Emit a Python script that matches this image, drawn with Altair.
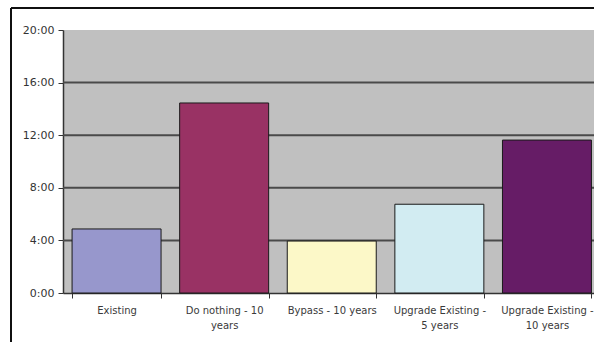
import altair as alt
import pandas as pd

categories = ["Existing", "Do nothing - 10 years", "Bypass - 10 years",
              "Upgrade Existing - 5 years", "Upgrade Existing - 10 years"]
label_lines = [["Existing"], ["Do nothing - 10", "years"], ["Bypass - 10 years"],
               ["Upgrade Existing -", "5 years"], ["Upgrade Existing -", "10 years"]]
hours = [4.87, 14.45, 3.95, 6.75, 11.63]
colors = ["#9797CC", "#993264", "#FCF8C8", "#D2ECF2", "#661C66"]
y_ticks = [0, 4, 8, 12, 16, 20]
grid_values = [4, 8, 12, 16]

df = pd.DataFrame({"category": categories, "hours": hours})
grid_df = pd.DataFrame({"v": grid_values})

# build label expression for wrapped category labels
expr = "datum.label"
for cat, lines in reversed(list(zip(categories, label_lines))):
    arr = "[" + ",".join("'" + l + "'" for l in lines) + "]"
    expr = f"datum.label == '{cat}' ? {arr} : ({expr})"

W, H = 531, 263
FONT = "DejaVu Sans"

y_scale = alt.Scale(domain=[0, 20], nice=False)
y_axis = alt.Axis(values=y_ticks, labelExpr="datum.value + ':00'",
                  grid=False, labelFont=FONT, labelFontSize=11,
                  labelColor="#333333", tickSize=5, tickColor="#333333",
                  domainColor="#333333", domainWidth=1.5, labelPadding=4)

grid = alt.Chart(grid_df).mark_rule(color="#4a4a4a", strokeWidth=2).encode(
    y=alt.Y("v:Q", scale=y_scale, axis=y_axis, title=None)
)

bars = alt.Chart(df).mark_bar(stroke="#1a1a1a", strokeWidth=1).encode(
    x=alt.X("category:N", sort=categories, title=None,
            scale=alt.Scale(paddingInner=0.173, paddingOuter=0.054, align=0.78),
            axis=alt.Axis(labelAngle=0, labelExpr=expr, tickBand="extent",
                          labelFont=FONT, labelFontSize=10, labelColor="#3a3a3a",
                          labelLineHeight=15, labelPadding=7, tickSize=5,
                          tickColor="#333333", domainColor="#333333",
                          domainWidth=1.5, labelBaseline="top")),
    y=alt.Y("hours:Q", scale=y_scale, title=None, axis=y_axis),
    color=alt.Color("category:N", scale=alt.Scale(domain=categories, range=colors),
                    legend=None),
)

border_top = alt.Chart(df).mark_rule(color="#111111", strokeWidth=1.5).encode(
    x=alt.value(-52), x2=alt.value(W + 5), y=alt.value(-22), y2=alt.value(-22)
)
border_left = alt.Chart(df).mark_rule(color="#111111", strokeWidth=1.5).encode(
    x=alt.value(-52), x2=alt.value(-52), y=alt.value(-22), y2=alt.value(H + 49)
)

chart = alt.layer(grid, bars, border_top, border_left).properties(
    width=W, height=H,
    autosize=alt.AutoSizeParams(type="none"),
    padding={"left": 63, "top": 30, "right": 0, "bottom": 49},
    background="white",
).configure_view(fill="#C0C0C0", stroke=None)

chart.save("out.html", embed_options={"renderer": "svg", "actions": False})
